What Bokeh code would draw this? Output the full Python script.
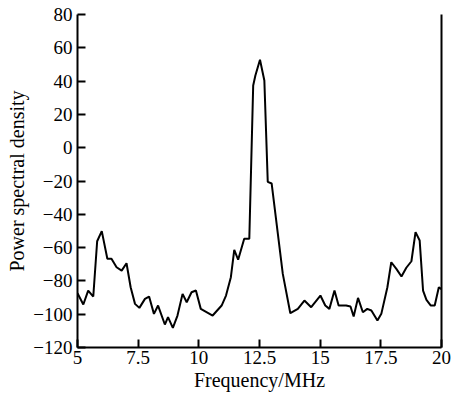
from bokeh.plotting import figure
from bokeh.models import FixedTicker, LinearAxis, ColumnDataSource
from bokeh.embed import file_html
from bokeh.resources import INLINE

freq = [5.0, 5.24, 5.44, 5.65, 5.81, 6.0, 6.23, 6.40, 6.61, 6.82, 7.02, 7.19, 7.37, 7.55,
        7.78, 7.95, 8.15, 8.32, 8.60, 8.73, 8.93, 9.12, 9.33, 9.50, 9.70, 9.88, 10.08,
        10.57, 10.94, 11.12, 11.32, 11.46, 11.62, 11.87, 12.08, 12.24, 12.33, 12.52,
        12.70, 12.84, 13.0, 13.46, 13.77, 14.08, 14.35, 14.63, 15.01, 15.21, 15.38,
        15.59, 15.76, 16.07, 16.25, 16.38, 16.56, 16.76, 16.94, 17.11, 17.36, 17.52,
        17.77, 17.93, 18.14, 18.35, 18.55, 18.76, 18.93, 19.10, 19.24, 19.38, 19.56,
        19.72, 19.89, 20.0]
psd = [-87.4, -94.2, -85.8, -89.4, -56.2, -50.1, -66.7, -66.7, -71.8, -73.8, -69.4, -83.8,
       -93.8, -96.2, -90.8, -89.4, -99.8, -94.8, -106.2, -101.8, -108.2, -100.8, -87.8,
       -92.8, -86.8, -85.8, -96.8, -100.8, -94.8, -88.8, -77.8, -61.4, -67.3, -54.7,
       -54.7, 37.4, 43.4, 52.8, 40.4, -20.5, -21.5, -75.8, -99.4, -96.8, -91.8, -95.8,
       -88.8, -94.8, -96.8, -85.8, -94.8, -94.8, -95.4, -101.4, -90.2, -98.8, -96.8,
       -97.8, -103.8, -99.8, -83.8, -68.8, -72.8, -77.4, -72.1, -68.2, -50.7, -55.7,
       -85.8, -91.4, -94.8, -94.8, -83.8, -85.0]

x_ticks = [5, 7.5, 10, 12.5, 15, 17.5, 20]
y_ticks = [-120, -100, -80, -60, -40, -20, 0, 20, 40, 60, 80]
x_title = "Frequency/MHz"
y_title = "Power spectral density"

FONT = "Liberation Serif"

p = figure(width=458, height=397, x_range=(5, 20), y_range=(-120, 80),
           output_backend="svg", toolbar_location=None,
           min_border_left=77, min_border_right=17, min_border_top=14, min_border_bottom=50)
p.xgrid.visible = False
p.ygrid.visible = False
p.outline_line_color = None
p.background_fill_color = "white"
p.border_fill_color = "white"

src = ColumnDataSource(dict(x=freq, y=psd))
p.line("x", "y", source=src, line_color="black", line_width=2)

for ax, ticks in ((p.xaxis[0], x_ticks), (p.yaxis[0], y_ticks)):
    ax.ticker = FixedTicker(ticks=ticks)
    ax.major_tick_in = 8
    ax.major_tick_out = 0
    ax.minor_tick_line_color = None
    ax.axis_line_width = 2
    ax.major_tick_line_width = 2
    ax.axis_line_color = "black"
    ax.major_tick_line_color = "black"
    ax.major_label_text_font = FONT
    ax.major_label_text_font_size = "19px"
    ax.major_label_text_color = "black"
    ax.axis_label_text_font = FONT
    ax.axis_label_text_font_size = "20px"
    ax.axis_label_text_font_style = "normal"
    ax.axis_label_text_color = "black"

p.xaxis.axis_label = x_title
p.yaxis.axis_label = y_title
p.xaxis.major_label_standoff = 3
p.yaxis.major_label_standoff = 5
p.xaxis.axis_label_standoff = 2
p.yaxis.axis_label_standoff = 2

right = LinearAxis(ticker=FixedTicker(ticks=[]), axis_line_width=2, axis_line_color="black",
                   major_tick_line_color=None, minor_tick_line_color=None,
                   major_label_text_font_size="0px")
p.add_layout(right, "right")

open("out.html", "w").write(file_html(p, INLINE))
